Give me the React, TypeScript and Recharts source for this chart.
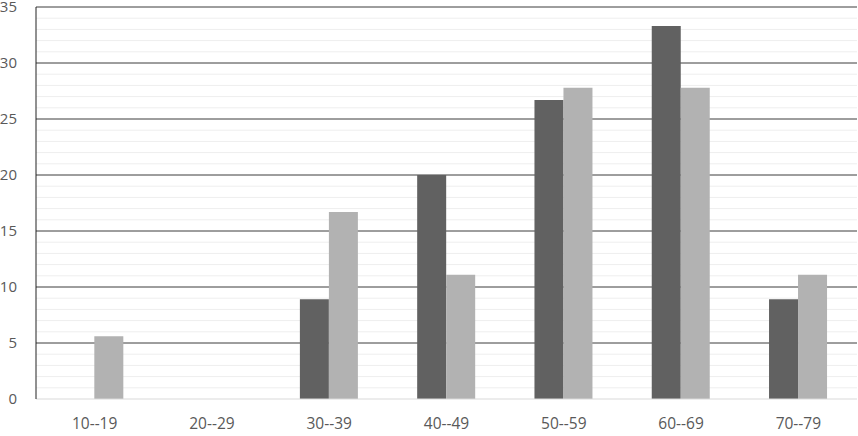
import React from 'react';
import { BarChart, Bar, XAxis, YAxis, CartesianGrid } from 'recharts';

const categories = ['10--19', '20--29', '30--39', '40--49', '50--59', '60--69', '70--79'];
const seriesDark = [0, 0, 8.9, 20, 26.7, 33.3, 8.9];
const seriesLight = [5.6, 0, 16.7, 11.1, 27.8, 27.8, 11.1];
const yTicks = [0, 5, 10, 15, 20, 25, 30, 35];
const minorLines = Array.from({ length: 35 }, (_, i) => i + 1).filter((v) => v % 5 !== 0);
const majorLines = [5, 10, 15, 20, 25, 30, 35];

const data = categories.map((c, i) => ({ cat: c, dark: seriesDark[i], light: seriesLight[i] }));

const font = '"Open Sans", sans-serif';

export default function App() {
  return (
    <div style={{ position: 'absolute', left: 0, top: 0, background: '#fff' }}>
      <BarChart
        width={858}
        height={436}
        data={data}
        margin={{ top: 7, right: 1, bottom: 0, left: 0 }}
        barCategoryGap="25%"
        barGap={0}
      >
        <CartesianGrid vertical={false} horizontalValues={minorLines} stroke="#eeeeee" strokeWidth={1} />
        <CartesianGrid vertical={false} horizontalValues={majorLines} stroke="#3c3c3c" strokeWidth={1} />
        <XAxis
          dataKey="cat"
          tickLine={false}
          tickSize={0}
          tickMargin={19}
          height={37}
          axisLine={{ stroke: '#d9d9d9', strokeWidth: 1 }}
          tick={{ fill: '#595959', fontSize: 15.5, fontFamily: font }}
          interval={0}
        />
        <YAxis
          domain={[0, 35]}
          ticks={yTicks}
          width={36}
          tickLine={false}
          tickSize={0}
          tickMargin={19}
          axisLine={{ stroke: '#222222', strokeWidth: 1 }}
          tick={{ fill: '#595959', fontSize: 15, fontFamily: font }}
          interval={0}
        />
        <YAxis
          yAxisId="right"
          orientation="right"
          domain={[0, 35]}
          width={0}
          tick={false}
          tickLine={false}
          axisLine={{ stroke: '#222222', strokeWidth: 1 }}
        />
        <Bar dataKey="dark" fill="#616161" isAnimationActive={false} />
        <Bar dataKey="light" fill="#b2b2b2" isAnimationActive={false} />
      </BarChart>
    </div>
  );
}
